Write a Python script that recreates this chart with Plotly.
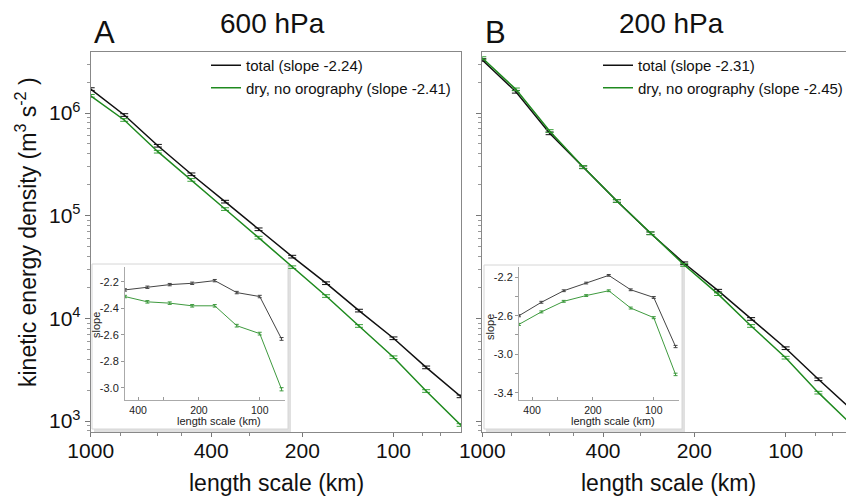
import plotly.graph_objects as go

# ---------------- data ----------------
scale_km = [1000, 775, 600, 465, 360, 279, 216, 167, 130, 100, 78, 60]
energy_total_600 = [1.71e6, 9.56e5, 4.80e5, 2.53e5, 1.37e5, 7.37e4, 3.99e4, 2.20e4, 1.19e4, 6.40e3, 3.33e3, 1.74e3]
energy_dry_600 = [1.47e6, 8.55e5, 4.20e5, 2.23e5, 1.16e5, 6.11e4, 3.15e4, 1.65e4, 8.43e3, 4.18e3, 1.96e3, 915]
energy_total_200 = [3.28e6, 1.61e6, 6.34e5, 2.96e5, 1.39e5, 6.74e4, 3.44e4, 1.86e4, 9.87e3, 5.12e3, 2.55e3, 1.26e3]
energy_dry_200 = [3.43e6, 1.70e6, 6.68e5, 2.98e5, 1.39e5, 6.74e4, 3.31e4, 1.72e4, 8.43e3, 4.14e3, 1.89e3, 896]

slope_km = [465, 360, 279, 216, 167, 130, 100, 78]
slope_total_600 = [-2.26, -2.24, -2.22, -2.21, -2.19, -2.28, -2.31, -2.63]
slope_dry_600 = [-2.31, -2.35, -2.36, -2.38, -2.38, -2.53, -2.59, -3.01]
slope_total_200 = [-2.60, -2.46, -2.34, -2.26, -2.18, -2.33, -2.41, -2.92]
slope_dry_200 = [-2.69, -2.56, -2.45, -2.39, -2.34, -2.52, -2.62, -3.21]

names = ["total (slope -2.24)", "dry, no orography (slope -2.41)",
         "total (slope -2.31)", "dry, no orography (slope -2.45)"]
x_ticks = [1000, 400, 200, 100]
x_ticktext = ["1000", "400", "200", "100"]
x_minor = [800, 600, 500, 300, 80, 70]
y_ticks = [1e3, 1e4, 1e5, 1e6]
y_ticktext = ["10<sup>3</sup>", "10<sup>4</sup>", "10<sup>5</sup>", "10<sup>6</sup>"]
inset_x_ticks = [400, 200, 100]
inset_x_ticktext = ["400", "200", "100"]
inset_x_minor = [300]
inset_a_yticks = [-2.2, -2.4, -2.6, -2.8, -3.0]
inset_a_ytext = ["-2.2", "-2.4", "-2.6", "-2.8", "-3.0"]
inset_b_yticks = [-2.2, -2.6, -3.0, -3.4]
inset_b_ytext = ["-2.2", "-2.6", "-3.0", "-3.4"]
inset_b_yminor = [-2.4, -2.8, -3.2]

# ---------------- layout helpers ----------------
W, H = 854, 498
OFF = 8  # page body margin of the html page
FONT = "Liberation Sans, Arial, sans-serif"
BLACK = "#111111"
GREEN = "#1f8a1f"
INSET_BLACK = "#444444"
INSET_GREEN = "#3e9a3e"


def px(x):
    return (x - OFF) / W


def py(y):
    return 1 - (y - OFF) / H


fig = go.Figure()


def main_traces(xa, ya, tot, dry, n1, n2, leg):
    fig.add_trace(go.Scatter(
        x=scale_km, y=tot, mode="lines", name=n1, legend=leg,
        line=dict(color=BLACK, width=1.5), xaxis=xa, yaxis=ya,
        error_y=dict(type="percent", value=3, width=4, thickness=1, color=BLACK)))
    fig.add_trace(go.Scatter(
        x=scale_km, y=dry, mode="lines", name=n2, legend=leg,
        line=dict(color=GREEN, width=1.5), xaxis=xa, yaxis=ya,
        error_y=dict(type="percent", value=3, width=4, thickness=1, color="#3aa03a")))


def inset_traces(xa, ya, tot, dry):
    fig.add_trace(go.Scatter(
        x=slope_km, y=tot, mode="lines", showlegend=False,
        line=dict(color=INSET_BLACK, width=1), xaxis=xa, yaxis=ya,
        error_y=dict(type="percent", value=0.4, width=2, thickness=1, color=INSET_BLACK)))
    fig.add_trace(go.Scatter(
        x=slope_km, y=dry, mode="lines", showlegend=False,
        line=dict(color=INSET_GREEN, width=1), xaxis=xa, yaxis=ya,
        error_y=dict(type="percent", value=0.4, width=2, thickness=1, color=INSET_GREEN)))


main_traces("x", "y", energy_total_600, energy_dry_600, names[0], names[1], "legend")
main_traces("x2", "y2", energy_total_200, energy_dry_200, names[2], names[3], "legend2")
inset_traces("x3", "y3", slope_total_600, slope_dry_600)
inset_traces("x4", "y4", slope_total_200, slope_dry_200)

main_x = dict(type="log", range=[3, 1.777], tickvals=x_ticks, ticktext=x_ticktext,
              ticks="outside", ticklen=4, tickcolor="#777", showline=True, linecolor="#888",
              mirror=True, showgrid=False, zeroline=False, automargin=False,
              ticklabelstandoff=-4,
              tickfont=dict(size=21, color="#111", family=FONT),
              minor=dict(tickmode="array", tickvals=x_minor, ticks="outside", ticklen=3,
                         tickcolor="#888", showgrid=False))
y_minor = [m * 10 ** e for e in range(2, 7) for m in range(2, 10)]
main_y = dict(type="log", range=[2.896, 6.597], tickvals=y_ticks,
              ticks="outside", ticklen=5, tickcolor="#777", showline=True, linecolor="#888",
              mirror=True, showgrid=False, zeroline=False, automargin=False,
              tickfont=dict(size=21, color="#111", family=FONT),
              minor=dict(tickmode="array", tickvals=y_minor, ticks="outside", ticklen=3,
                         tickcolor="#999", showgrid=False))

ydom = [py(431.7), py(51.7)]
inset_x = dict(type="log", range=[2.667, 1.875], tickvals=inset_x_ticks,
               ticktext=inset_x_ticktext, ticks="inside", ticklen=3,
               tickcolor="#999", showline=True, linecolor="#aaa", showgrid=False,
               zeroline=False, automargin=False,
               tickfont=dict(size=10.5, color="#222", family=FONT),
               minor=dict(tickmode="array", tickvals=inset_x_minor, ticks="inside",
                          ticklen=3, tickcolor="#999", showgrid=False))
inset_y_common = dict(ticks="outside", ticklen=3, tickcolor="#999", showline=True,
                      linecolor="#aaa", showgrid=False, zeroline=False, automargin=False,
                      tickfont=dict(size=11, color="#222", family=FONT))

legend_common = dict(xanchor="left", yanchor="top", bgcolor="rgba(0,0,0,0)",
                     font=dict(size=15, color="#111", family=FONT),
                     tracegroupgap=0, itemwidth=30, borderwidth=0)

fig.update_layout(
    template="none",
    width=W, height=H, margin=dict(l=0, r=0, t=0, b=0, pad=0),
    paper_bgcolor="white", plot_bgcolor="white",
    font=dict(family=FONT, color="#111"),
    xaxis=dict(domain=[px(90.7), px(461)], anchor="y", **main_x),
    yaxis=dict(domain=ydom, anchor="x", ticktext=y_ticktext, **main_y),
    xaxis2=dict(domain=[px(482.3), px(853.3)], anchor="y2", **main_x),
    yaxis2=dict(domain=ydom, anchor="x2", showticklabels=False, **main_y),
    xaxis3=dict(domain=[px(125), px(285)], anchor="y3", **inset_x),
    yaxis3=dict(domain=[py(400), py(267)], anchor="x3", range=[-3.091, -2.087],
                tickvals=inset_a_yticks, ticktext=inset_a_ytext, **inset_y_common),
    xaxis4=dict(domain=[px(519), px(679)], anchor="y4", **inset_x),
    yaxis4=dict(domain=[py(400), py(266.7)], anchor="x4", range=[-3.476, -2.09],
                tickvals=inset_b_yticks, ticktext=inset_b_ytext,
                minor=dict(tickmode="array", tickvals=inset_b_yminor, ticks="outside",
                           ticklen=3, tickcolor="#999", showgrid=False),
                **inset_y_common),
    legend=dict(x=px(206), y=py(49), **legend_common),
    legend2=dict(x=px(598), y=py(49), **legend_common),
)

# inset boxes with a soft shadow
for (x0, y0, x1, y1) in [(92, 264, 288, 429), (484, 265, 682, 429)]:
    fig.add_shape(type="rect", xref="paper", yref="paper", layer="below",
                  x0=px(x0 + 2), x1=px(x1 + 3), y0=py(y1 + 4), y1=py(y0 + 2),
                  fillcolor="rgba(0,0,0,0.12)", line=dict(width=0))
    fig.add_shape(type="rect", xref="paper", yref="paper", layer="below",
                  x0=px(x0), x1=px(x1), y0=py(y1), y1=py(y0),
                  fillcolor="white", line=dict(color="#d6d6d6", width=1))


def ann(text, x, y, size, angle=0, color="#111"):
    fig.add_annotation(text=text, x=px(x), y=py(y), xref="paper", yref="paper",
                       xanchor="center", yanchor="middle", showarrow=False,
                       textangle=angle, font=dict(size=size, color=color, family=FONT))


ann("A", 104.5, 33, 31)
ann("600 hPa", 272.5, 24, 28)
ann("B", 495, 33, 31)
ann("200 hPa", 671, 24, 28)
ann("kinetic energy density (m<sup>3</sup> s<sup>-2</sup> )", 26, 232, 23, angle=-90)
ann("length scale (km)", 276, 483, 23)
ann("length scale (km)", 668, 483, 23)
ann("length scale (km)", 219, 421, 11, color="#222")
ann("length scale (km)", 613, 421, 11, color="#222")
ann("slope", 96, 325, 11, angle=-90, color="#222")
ann("slope", 490, 327, 11, angle=-90, color="#222")

fig.write_html("out.html")
